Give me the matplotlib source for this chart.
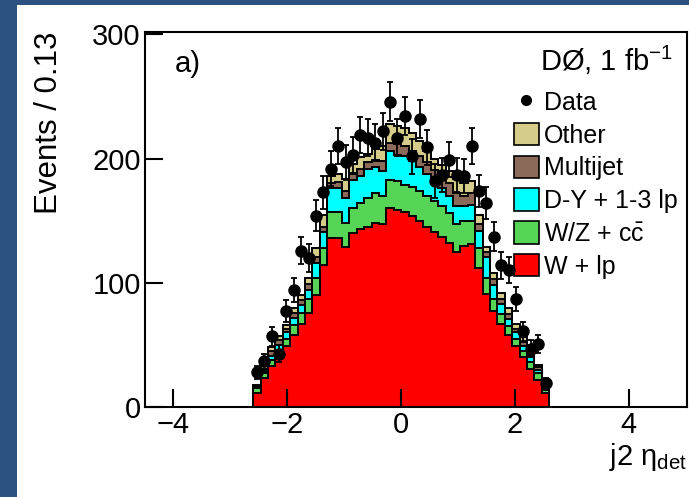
import numpy as np
import matplotlib
matplotlib.use("Agg")
import matplotlib.pyplot as plt
from matplotlib.patches import Rectangle, Patch
from matplotlib.lines import Line2D

plt.rcParams['font.family'] = ['Liberation Sans', 'DejaVu Sans']
plt.rcParams['mathtext.fontset'] = 'custom'
plt.rcParams['mathtext.rm'] = 'Liberation Sans'
plt.rcParams['mathtext.it'] = 'Liberation Sans:italic'
plt.rcParams['mathtext.bf'] = 'Liberation Sans:bold'

# 40 bins of 0.13 from -2.6 to 2.6
bin_lo, bin_w, n_bins = -2.6, 0.13, 40

# per-bin contributions (events / bin)
w_lp = [11, 23, 33, 40, 49, 58, 67, 76, 90, 114,
        136, 136, 129, 140, 143, 145, 148, 147, 160, 159,
        157, 154, 150, 145, 141, 137, 132, 125, 130, 131,
        112, 91, 77, 67, 58, 49, 40, 31, 22, 11]
wz_cc = [4, 4, 5, 6, 6, 8, 9, 11, 14, 14,
         21, 21, 19, 20, 21, 23, 24, 23, 23, 23,
         22, 23, 24, 25, 25, 25, 24, 22, 20, 19,
         16, 13, 10, 8, 7, 6, 5, 5, 5, 3]
dy_lp = [1, 2, 3, 4, 5, 6, 6, 7, 12, 13,
         19, 19, 20, 23, 22, 24, 21, 20, 23, 21,
         23, 21, 19, 18, 16, 14, 14, 15, 12, 13,
         14, 17, 11, 8, 6, 5, 4, 4, 3, 2]
multijet = [1, 2, 4, 4, 3, 4, 4, 5, 5, 4,
            4, 5, 6, 5, 6, 5, 6, 8, 7, 9,
            8, 8, 9, 9, 9, 10, 10, 10, 8, 9,
            5, 4, 5, 4, 4, 3, 3, 2, 2, 1]
other = [1, 2, 3, 3, 3, 4, 4, 5, 7, 10,
         6, 7, 10, 8, 9, 7, 9, 12, 15, 14,
         15, 15, 12, 9, 9, 9, 10, 12, 10, 10,
         8, 4, 5, 5, 5, 4, 4, 3, 2, 1]
data = [28, 37, 57, 43, 77, 94, 126, 120, 154, 173,
        192, 210, 197, 203, 219, 217, 213, 222, 246, 217,
        234, 202, 232, 209, 182, 187, 199, 187, 186, 210,
        174, 164, 137, 114, 110, 87, 61, 47, 51, 19]

labels = ['Other', 'Multijet', 'D-Y + 1-3 lp', r'W/Z + c$\bar{\mathregular{c}}$', 'W + lp']
colors = ['#d4cc88', '#8c6a5a', '#00ffff', '#55d455', '#ff0000']

edges = bin_lo + bin_w * np.arange(n_bins + 1)
centers = 0.5 * (edges[:-1] + edges[1:])

fig = plt.figure(figsize=(6.89, 4.97), dpi=100)
fig.patch.set_facecolor('#2c5282')
fig.add_artist(Rectangle((17 / 689, 0), 1, 1 - 5 / 497, transform=fig.transFigure,
                         facecolor='white', edgecolor='none', zorder=-1))

ax = fig.add_axes([145 / 689, 1 - 407 / 497, 542 / 689, 375 / 497])

# stacked histogram, drawn from the top level down like ROOT's THStack
layers = [w_lp, wz_cc, dy_lp, multijet, other]
cum = np.cumsum(np.array(layers, dtype=float), axis=0)
for i, lev in enumerate(cum[::-1]):
    ax.stairs(lev, edges, baseline=0, fill=True, facecolor=colors[i],
              edgecolor='none', zorder=1 + i * 0.1)
    ax.stairs(lev, edges, baseline=0, fill=False, color='black', lw=1.4,
              zorder=1.05 + i * 0.1)

data = np.array(data, dtype=float)
ax.errorbar(centers, data, yerr=np.sqrt(data), fmt='o', color='black', ms=8,
            capsize=2.2, elinewidth=1.3, capthick=1.3, zorder=5)

ax.set_xlim(-4.5, 5.02)
ax.set_ylim(0, 302)
ax.set_xticks([-4, -2, 0, 2, 4])
ax.set_yticks([0, 100, 200, 300])
ax.tick_params(direction='in', length=13, width=1.5, labelsize=21, pad=3)
for sp in ax.spines.values():
    sp.set_linewidth(1.5)

ax.set_ylabel('Events / 0.13', loc='top', fontsize=22.5)
ax.yaxis.set_label_coords(-0.15, 1.0)
ax.set_xlabel(r'j2 $\mathregular{\eta_{det}}$', loc='right', fontsize=21)
ax.xaxis.set_label_coords(1.0, -0.09)

ax.text(0.055, 0.915, 'a)', transform=ax.transAxes, fontsize=21, va='center')
ax.text(0.974, 0.925, r'DØ, 1 fb$^{\mathregular{-1}}$', transform=ax.transAxes,
        fontsize=21, va='center', ha='right')

handles = [Line2D([], [], marker='o', ls='none', color='black', ms=7)]
handles += [Patch(facecolor=c, edgecolor='black', lw=1.2) for c in colors]
ax.legend(handles, ['Data'] + labels, loc='upper left', bbox_to_anchor=(0.68, 0.845),
          frameon=False, fontsize=18, handlelength=1.0, handleheight=1.0,
          handletextpad=0.2, labelspacing=0.32, borderpad=0, borderaxespad=0)

fig.savefig('out.png', dpi=100, facecolor=fig.get_facecolor())
